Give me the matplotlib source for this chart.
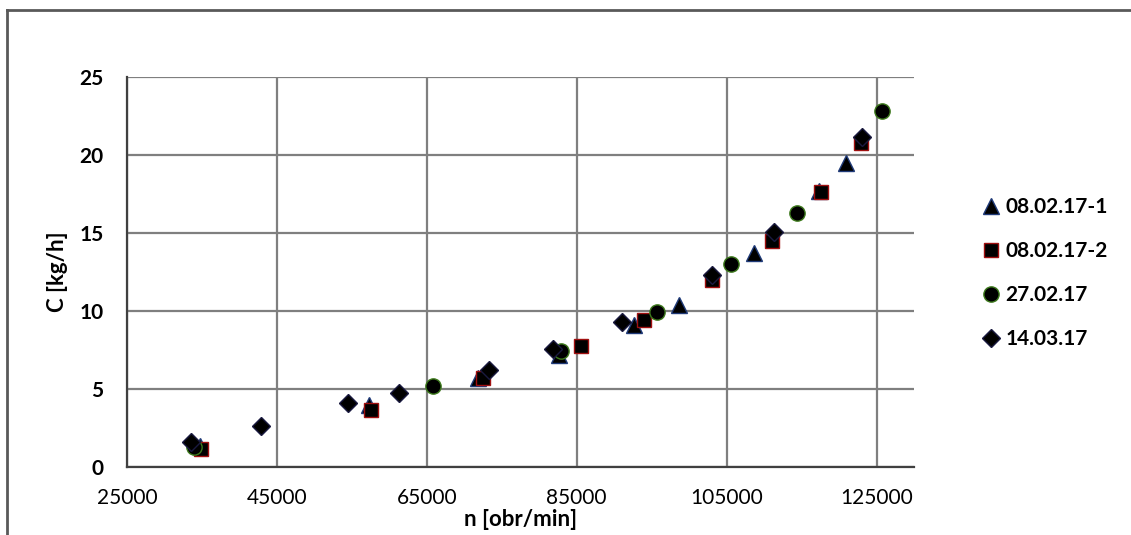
import matplotlib
matplotlib.use('Agg')
import matplotlib.pyplot as plt
from matplotlib.lines import Line2D

plt.rcParams['font.family'] = ['Lato', 'DejaVu Sans']

# Dane pomiarowe: n [obr/min], C [kg/h]
n_1 = [34750, 57330, 71800, 82620, 92640, 98660, 108630, 117360, 120880]
c_1 = [1.35, 3.97, 5.68, 7.18, 9.10, 10.38, 13.74, 17.70, 19.50]

n_2 = [34930, 57550, 72470, 85520, 93980, 103110, 110990, 117540, 122880]
c_2 = [1.13, 3.65, 5.68, 7.76, 9.42, 11.99, 14.49, 17.65, 20.75]

n_3 = [33950, 65790, 82940, 95720, 105640, 114340, 125690]
c_3 = [1.30, 5.19, 7.44, 9.96, 12.99, 16.26, 22.84]

n_4 = [33500, 42860, 54430, 61250, 73360, 81800, 91090, 103110, 111300, 123020]
c_4 = [1.62, 2.63, 4.12, 4.76, 6.20, 7.54, 9.31, 12.30, 15.08, 21.17]

labels = ['08.02.17-1', '08.02.17-2', '27.02.17', '14.03.17']
x_ticks = [25000, 45000, 65000, 85000, 105000, 125000]
y_ticks = [0, 5, 10, 15, 20, 25]

fig = plt.figure(figsize=(11.31, 5.35), dpi=100)
ax = fig.add_axes([127 / 1131, 1 - 467 / 535, (914 - 127) / 1131, (467 - 77) / 535])

ax.plot(n_1, c_1, linestyle='none', marker='^', ms=11, mfc='black', mec='#1f3a78', mew=1, label=labels[0], zorder=3)
ax.plot(n_2, c_2, linestyle='none', marker='s', ms=10, mfc='black', mec='#a01010', mew=1, label=labels[1], zorder=4)
ax.plot(n_3, c_3, linestyle='none', marker='o', ms=11, mfc='black', mec='#3d7a1c', mew=1, label=labels[2], zorder=5)
ax.plot(n_4, c_4, linestyle='none', marker='D', ms=9, mfc='black', mec='#1a1a40', mew=1, label=labels[3], zorder=6)

ax.set_xlim(25000, 130000)
ax.set_ylim(0, 25)
ax.set_xticks(x_ticks)
ax.set_yticks(y_ticks)
ax.tick_params(length=0, labelsize=15)
ax.tick_params(axis='x', pad=15)
ax.tick_params(axis='y', pad=17)
for t in ax.get_yticklabels():
    t.set_fontweight('bold')

ax.grid(True, color='#7f7f7f', linewidth=1.6, zorder=0)
ax.set_axisbelow(True)
for s in ['top', 'right']:
    ax.spines[s].set_visible(False)
for s in ['left', 'bottom']:
    ax.spines[s].set_color('#404040')
    ax.spines[s].set_linewidth(1.6)

ax.set_xlabel('n [obr/min]', fontsize=16, fontweight='bold', labelpad=1)
ax.set_ylabel('C [kg/h]', fontsize=16, fontweight='bold', labelpad=8)

ax.legend(loc='upper left', bbox_to_anchor=(1.058, 0.74), frameon=False,
          prop={'size': 15, 'weight': 'bold'}, handletextpad=0.1,
          labelspacing=1.15, handlelength=1.2)

# ramka wykresu (przycięta)
fig.add_artist(Line2D([7 / 1131, 7 / 1131], [0, 1 - 10 / 535], color='#595959', lw=2))
fig.add_artist(Line2D([7 / 1131, 1], [1 - 10 / 535, 1 - 10 / 535], color='#595959', lw=2))

fig.savefig('out.png', dpi=100)
